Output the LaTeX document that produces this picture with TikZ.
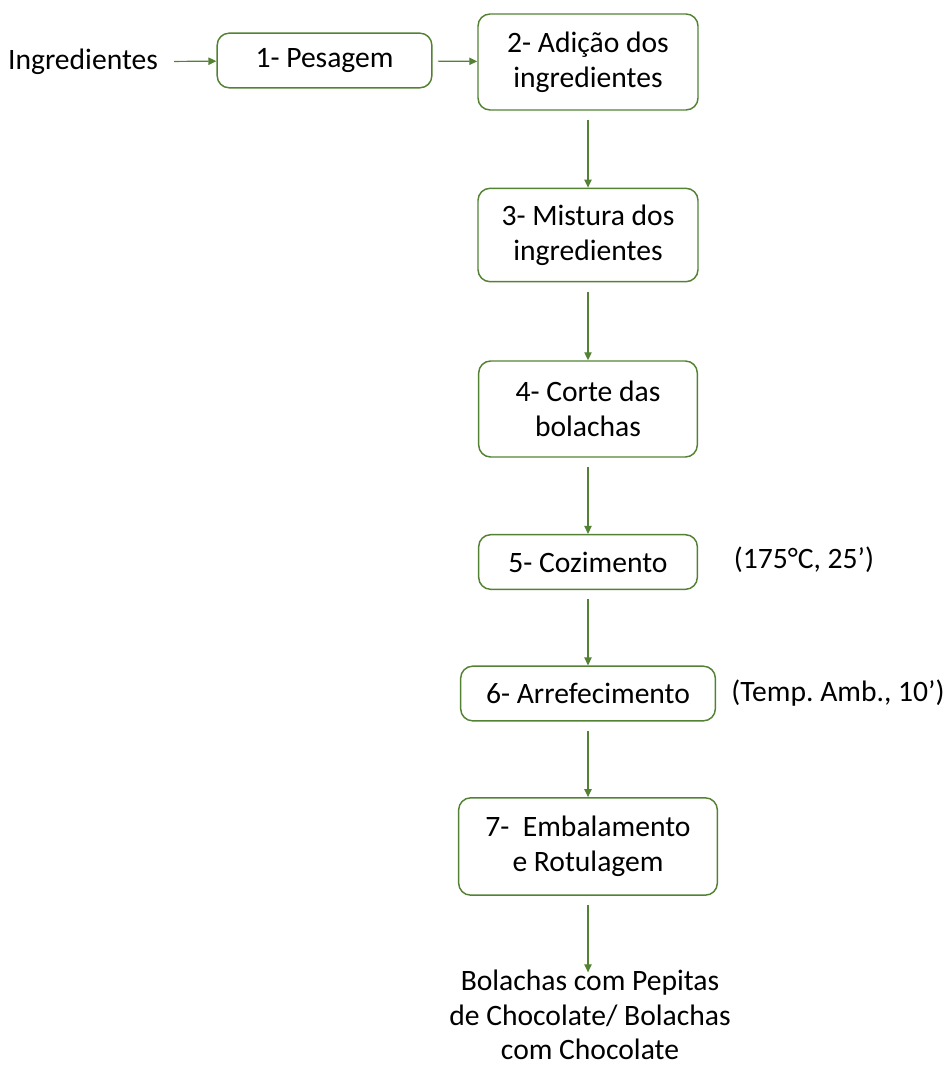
\documentclass[tikz,border=0pt]{standalone}
\usepackage{fontspec}
\setmainfont{Carlito}
\usepackage{xcolor}
\usetikzlibrary{arrows.meta}
\definecolor{verde}{RGB}{84,130,53}
\frenchspacing

\begin{document}
\begin{tikzpicture}[x=0.75pt, y=-0.75pt,
	passo/.style={draw=verde, line width=1.1pt, rounded corners=9pt, align=center, inner sep=0pt, font=\fontsize{22.2}{26}\selectfont},
	texto/.style={align=center, inner sep=0pt, font=\fontsize{22.2}{26}\selectfont},
	seta/.style={-{Triangle[length=6pt,width=5.5pt]}, draw=verde, line width=0.9pt}]
				\useasboundingbox (0,0) rectangle (951,1066);
				
				% Entrada
				\node[texto] (ingr) at (83,62) {Ingredientes};
				
				% Etapas
				\node[passo, minimum width=161pt, minimum height=41pt] (p1) at (324.5,60.5) {1- Pesagem};
				\node[passo, minimum width=165pt, minimum height=72pt] (p2) at (588,62) {2- Adição dos\\ingredientes};
				\node[passo, minimum width=165pt, minimum height=70pt] (p3) at (588,235) {3- Mistura dos\\ingredientes};
				\node[passo, minimum width=164pt, minimum height=72pt] (p4) at (588,409) {4- Corte das\\bolachas};
				\node[passo, minimum width=164pt, minimum height=41pt] (p5) at (588,562) {5- Cozimento};
				\node[passo, minimum width=191pt, minimum height=41pt] (p6) at (588,693.5) {6- Arrefecimento};
				\node[passo, minimum width=194pt, minimum height=73pt] (p7) at (588,846.5) {7-~ Embalamento\\e Rotulagem};
				
				% Condicoes
				\node[texto] (c5) at (804,560) {(175°C, 25’)};
				\node[texto] (c6) at (838,693) {(Temp. Amb., 10’)};
				
				% Produto final
				\node[texto] (fim) at (590,1015) {Bolachas com Pepitas\\de Chocolate/ Bolachas\\com Chocolate};
				
				% Setas
				\draw[seta, shorten <=12pt] (ingr) -- (p1);
				\draw[seta, shorten <=4pt] (p1) -- (p2);
				\draw[seta, shorten <=7pt] (p2) -- (p3);
				\draw[seta, shorten <=7pt] (p3) -- (p4);
				\draw[seta, shorten <=7pt] (p4) -- (p5);
				\draw[seta, shorten <=7pt] (p5) -- (p6);
				\draw[seta, shorten <=7pt] (p6) -- (p7);
				\draw[seta, shorten <=7pt, shorten >=-2pt] (p7) -- (p7 |- fim.north);
\end{tikzpicture}
\end{document}
